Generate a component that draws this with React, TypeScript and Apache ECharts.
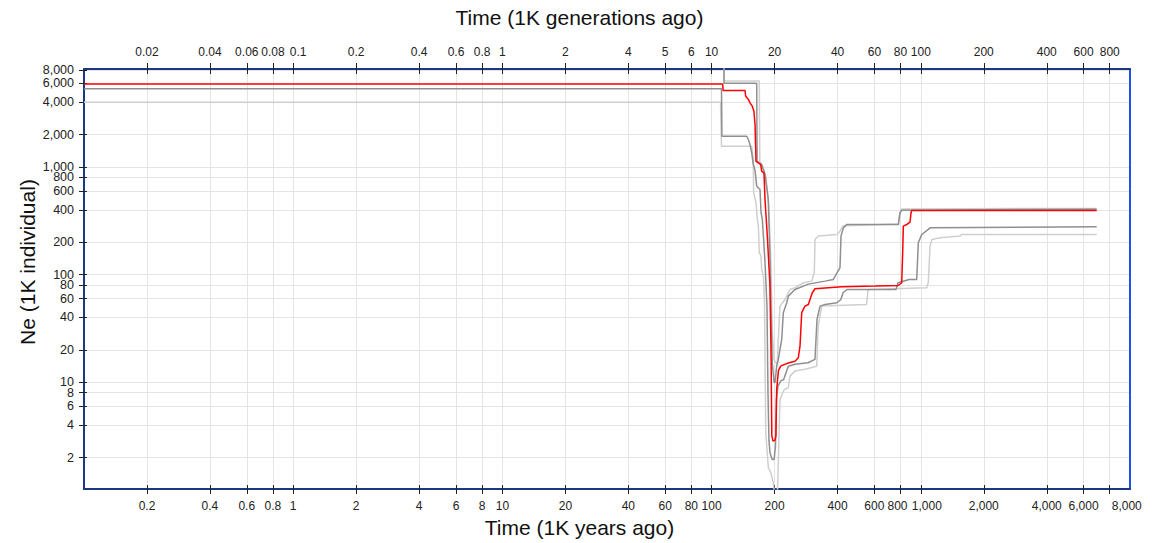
import React, { useEffect, useRef } from "react";
import * as echarts from "echarts";

// ---- Tick values and labels ----
const xTickValues = [0.2, 0.4, 0.6, 0.8, 1, 2, 4, 6, 8, 10, 20, 40, 60, 80, 100, 200, 400, 600, 800, 1000, 2000, 4000, 6000, 8000];
const xTickLabels = ["0.2", "0.4", "0.6", "0.8", "1", "2", "4", "6", "8", "10", "20", "40", "60", "80", "100", "200", "400", "600", "800", "1,000", "2,000", "4,000", "6,000", "8,000"];
const topTickLabels = ["0.02", "0.04", "0.06", "0.08", "0.1", "0.2", "0.4", "0.6", "0.8", "1", "2", "4", "5", "6", "10", "20", "40", "60", "80", "100", "200", "400", "600", "800"];
const yTickValues = [2, 4, 6, 8, 10, 20, 40, 60, 80, 100, 200, 400, 600, 800, 1000, 2000, 4000, 6000, 8000];
const yTickLabels = ["2", "4", "6", "8", "10", "20", "40", "60", "80", "100", "200", "400", "600", "800", "1,000", "2,000", "4,000", "6,000", "8,000"];

const xRange = [0.1, 10000];
const yRange = [1.02, 8130];

// ---- Series: [time (1K years ago), Ne (1K individual)] ----
const median: [number, number][] = [
  [0.1, 5900], [113, 5900], [113.5, 5130], [144.5, 5130], [145.5, 4540], [150, 4230], [152.6, 3940],
  [156.5, 3670], [159.3, 3290], [161.3, 2480], [163, 1130], [167.5, 1090], [171.7, 1054], [173.5, 913],
  [178, 880], [180, 500], [185, 215], [190, 80], [192.3, 20], [194, 3.2], [196.6, 2.84], [201, 2.9],
  [203, 3.2], [204.7, 8.6], [206.5, 10.4], [208.8, 12.9], [214.5, 14.2], [232.6, 15.1], [250.4, 15.7],
  [259.7, 16.9], [264.6, 21.7], [269.6, 44.3], [279.5, 51], [289.9, 52.8], [295.4, 58.8], [303, 67.9],
  [312.1, 73.9], [418.7, 77.2], [604, 78.2], [781, 79.3], [810.6, 84], [820, 171], [825, 282],
  [856, 292], [888, 307], [898, 375], [905, 394], [6930, 394],
];
const lowerDark: [number, number][] = [
  [0.1, 5320], [111.5, 5320], [112, 1931], [147.2, 1931], [149.8, 1800], [152.6, 1617], [155.5, 1354],
  [158.3, 1054], [161.3, 930], [164.3, 663], [170.4, 618], [172.3, 378], [174.8, 325], [176.9, 228],
  [180, 130], [184, 50], [186, 8], [188, 2.9], [190.2, 2.2], [194.9, 1.92], [199, 1.92], [202, 2.55],
  [204, 6.9], [207.7, 9.2], [214, 10.3], [221, 10.6], [232.6, 14.1], [250.4, 14.7], [288.9, 15.2],
  [312, 16.3], [319, 38.3], [329.8, 51], [348.4, 52.8], [397.6, 54.8], [415, 58.8], [424.7, 67.9],
  [444, 72.8], [761, 72.8], [778, 84], [880, 90], [956, 90], [973, 198], [1010, 236], [1086, 263],
  [1107, 272], [6930, 278],
];
const lowerLight: [number, number][] = [
  [0.1, 4000], [110.3, 4000], [111.5, 1560], [155.5, 1560], [158.3, 1170], [158.8, 576], [163, 465],
  [165.5, 325], [167.4, 282], [169, 160], [172.3, 148], [173.5, 112], [176.9, 97], [179, 55],
  [181.5, 3.4], [186.7, 1.62], [192.3, 1.43], [197.1, 1.17], [201, 0.85], [206, 0.85], [207.7, 1.43],
  [212.3, 6.93], [222.7, 8.6], [232.6, 8.9], [237, 11.4], [250.4, 12.7], [279.5, 13.2], [318, 14.1],
  [323.3, 33.2], [336, 51], [551, 52.8], [559.7, 72.8], [1067, 75.5], [1086, 84], [1107, 184],
  [1130, 212], [1236, 220], [1539, 228], [1568, 236], [6930, 236],
];
const upperDark: [number, number][] = [
  [0.1, 9000], [114.6, 9000], [114.6, 6000], [164.3, 6000], [165, 1130], [173.5, 1050], [180, 850],
  [186.7, 500], [190, 150], [192.3, 47.5], [195, 15], [199, 10], [201, 9.9], [203, 12], [204.7, 14.1],
  [208.4, 16.3], [216.3, 25], [220.2, 44.3], [228.6, 54.8], [232.6, 63.1], [250.4, 72.8], [289.9, 81.6],
  [348.4, 87], [381.8, 90.2], [410.9, 116], [415.5, 228], [426.2, 272], [442.4, 292], [781, 292],
  [795.6, 375], [810.6, 397], [6930, 405],
];
const upperLight: [number, number][] = [
  [0.1, 9500], [114.6, 9500], [114.6, 6300], [169, 6300], [170, 1131], [176, 1000], [182, 800],
  [188, 400], [192.3, 120], [195, 30], [199, 16], [206, 14.7], [208.4, 25], [212.3, 51], [224.4, 58.8],
  [237, 72.8], [250.4, 75.5], [274.4, 84], [301, 87], [309.7, 104], [312.1, 212], [323.6, 228],
  [397.6, 236], [410.9, 253], [418.7, 272], [426.2, 285], [781, 296], [795.6, 380], [810.6, 408],
  [6930, 412],
];

// label nudges (px; positive = right, negative = left) keeping crowded labels apart
const bottomLabelShift: Record<string, number> = { "800": -3, "1,000": 6, "8,000": 17 };
const topLabelShift: Record<string, number> = { "0.1": 5 };

const lg = Math.log10;
const toLog = (pts: [number, number][]) => pts.map(([t, n]) => [lg(t), lg(n)]);
const nearest = (logs: number[], v: number) => {
  let best = 0;
  for (let i = 1; i < logs.length; i++) {
    if (Math.abs(logs[i] - v) < Math.abs(logs[best] - v)) best = i;
  }
  return best;
};

const FONT = '"Liberation Sans", Arial, Helvetica, sans-serif';
const NAVY = "#1c3883";
const BLUE = "#1f4ff0";
const GRID_C = "#e4e4e4";
const LABEL_C = "#222";

function shiftedLabels(logs: number[], labels: string[], shifts: Record<string, number>, fontSize: number) {
  const rich: Record<string, any> = {};
  const keys: Record<string, string> = {};
  Object.keys(shifts).forEach((lab, i) => {
    const k = "s" + i;
    const sh = shifts[lab];
    keys[lab] = k;
    rich[k] = {
      fontSize,
      color: LABEL_C,
      fontFamily: FONT,
      padding: sh >= 0 ? [0, 0, 0, sh * 2] : [0, -sh * 2, 0, 0],
    };
  });
  const formatter = (v: number) => {
    const lab = labels[nearest(logs, v)];
    return keys[lab] ? `{${keys[lab]}|${lab}}` : lab;
  };
  return { formatter, rich };
}

export default function App() {
  const ref = useRef<HTMLDivElement>(null);
  useEffect(() => {
    if (!ref.current) return;
    const chart = echarts.init(ref.current, undefined, { renderer: "svg" });
    const xLogs = xTickValues.map(lg);
    const yLogs = yTickValues.map(lg);
    const xMin = lg(xRange[0]);
    const xMax = lg(xRange[1]);
    const yMin = lg(yRange[0]);
    const yMax = lg(yRange[1]);

    const bottomLab = shiftedLabels(xLogs, xTickLabels, bottomLabelShift, 12);
    const topLab = shiftedLabels(xLogs, topTickLabels, topLabelShift, 12);

    const baseX = (extra: any) => ({
      type: "value",
      min: xMin,
      max: xMax,
      gridIndex: 0,
      ...extra,
    });
    const hiddenParts = {
      axisLabel: { show: false },
      axisLine: { show: false, onZero: false },
      splitLine: { show: false },
    };

    const lineSeries = (name: string, pts: [number, number][], color: string, width: number, z: number) => ({
      name,
      type: "line",
      data: toLog(pts),
      xAxisIndex: 0,
      yAxisIndex: 0,
      showSymbol: false,
      symbol: "none",
      clip: true,
      silent: true,
      z,
      lineStyle: { color, width },
    });

    chart.setOption({
      animation: false,
      backgroundColor: "#ffffff",
      textStyle: { fontFamily: FONT },
      grid: { left: 84, top: 69, width: 1046, height: 420, containLabel: false },
      xAxis: [
        baseX({
          position: "bottom",
          axisLine: { show: true, onZero: false, lineStyle: { color: NAVY, width: 2 } },
          axisTick: { show: true, inside: false, length: 5, customValues: xLogs, lineStyle: { color: LABEL_C, width: 1 } },
          axisLabel: {
            show: true, customValues: xLogs, formatter: bottomLab.formatter, rich: bottomLab.rich,
            color: LABEL_C, fontSize: 12, margin: 11, fontFamily: FONT, showMinLabel: true, showMaxLabel: true,
          },
          splitLine: { show: true, lineStyle: { color: GRID_C, width: 1 } },
        }),
        baseX({
          position: "top",
          axisLine: { show: true, onZero: false, lineStyle: { color: NAVY, width: 2 } },
          axisTick: { show: true, inside: false, length: 6, customValues: xLogs, lineStyle: { color: LABEL_C, width: 1 } },
          axisLabel: {
            show: true, customValues: xLogs, formatter: topLab.formatter, rich: topLab.rich,
            color: LABEL_C, fontSize: 12, margin: 11, fontFamily: FONT, showMinLabel: true, showMaxLabel: true,
          },
          splitLine: { show: false },
        }),
        baseX({
          position: "bottom",
          ...hiddenParts,
          axisTick: { show: true, inside: true, length: 4, customValues: xLogs, lineStyle: { color: LABEL_C, width: 1 } },
        }),
        baseX({
          position: "top",
          ...hiddenParts,
          axisTick: { show: true, inside: true, length: 5, customValues: xLogs, lineStyle: { color: LABEL_C, width: 1 } },
        }),
      ],
      yAxis: [
        {
          type: "value",
          min: yMin,
          max: yMax,
          position: "left",
          axisLine: { show: true, onZero: false, lineStyle: { color: NAVY, width: 2 } },
          axisTick: { show: true, inside: false, length: 5, customValues: yLogs, lineStyle: { color: LABEL_C, width: 1 } },
          axisLabel: {
            show: true, customValues: yLogs, formatter: (v: number) => yTickLabels[nearest(yLogs, v)],
            color: LABEL_C, fontSize: 12.5, lineHeight: 11, margin: 10, fontFamily: FONT, showMinLabel: true, showMaxLabel: true,
          },
          splitLine: { show: true, lineStyle: { color: GRID_C, width: 1 } },
        },
        {
          type: "value",
          min: yMin,
          max: yMax,
          position: "right",
          axisLine: { show: true, onZero: false, lineStyle: { color: BLUE, width: 2 } },
          axisTick: { show: false },
          axisLabel: { show: false },
          splitLine: { show: false },
        },
        {
          type: "value",
          min: yMin,
          max: yMax,
          position: "left",
          ...hiddenParts,
          axisTick: { show: true, inside: true, length: 3, customValues: yLogs, lineStyle: { color: LABEL_C, width: 1 } },
        },
      ],
      series: [
        lineSeries("2.5%", lowerLight, "#cfcfcf", 1.5, 2),
        lineSeries("97.5%", upperLight, "#cfcfcf", 1.5, 2),
        lineSeries("12.5%", lowerDark, "#8f8f8f", 1.5, 3),
        lineSeries("87.5%", upperDark, "#8f8f8f", 1.5, 3),
        lineSeries("median", median, "#ff0000", 1.5, 4),
      ],
      graphic: [
        {
          type: "text",
          left: "center",
          top: 7,
          style: { text: "Time (1K generations ago)", font: `21px ${FONT}`, fill: "#111" },
        },
        {
          type: "text",
          left: "center",
          top: 517,
          style: { text: "Time (1K years ago)", font: `21px ${FONT}`, fill: "#111" },
        },
        {
          type: "text",
          x: 27,
          y: 262,
          rotation: Math.PI / 2,
          style: { text: "Ne (1K individual)", font: `21px ${FONT}`, fill: "#111", align: "center", verticalAlign: "middle" },
        },
      ],
    });
    return () => chart.dispose();
  }, []);

  return (
    <div
      ref={ref}
      style={{ position: "fixed", left: 0, top: 0, width: 1159, height: 543, background: "#fff" }}
    />
  );
}
